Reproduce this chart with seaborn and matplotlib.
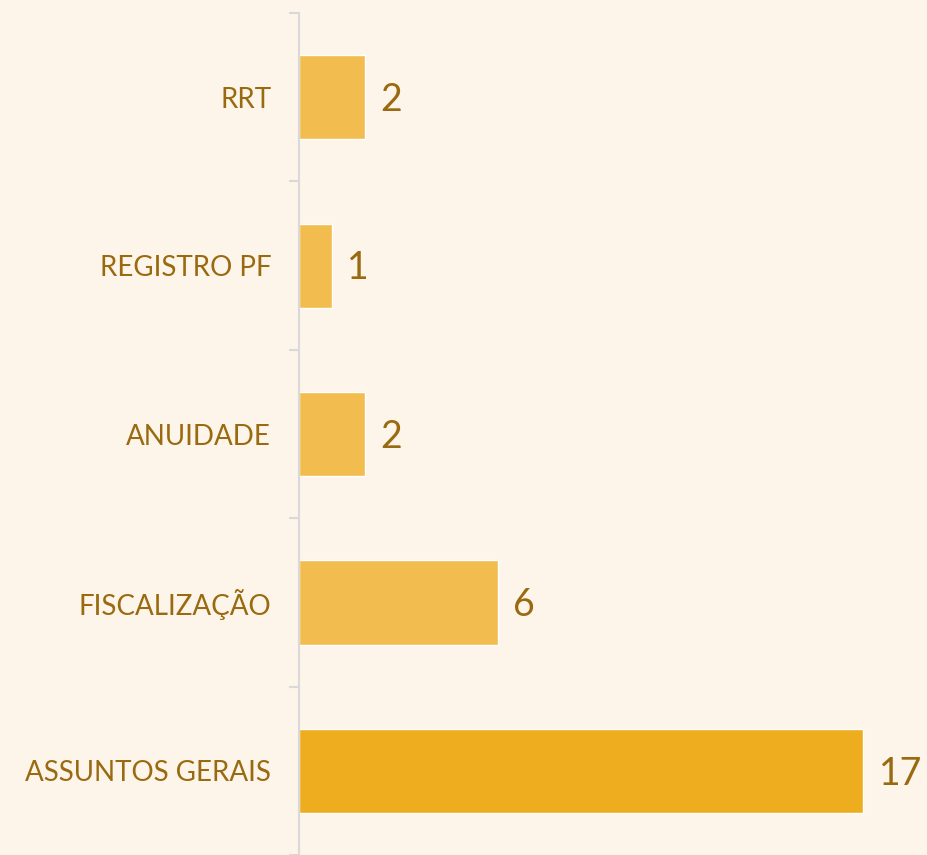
import matplotlib.pyplot as plt
import seaborn as sns
import pandas as pd

# ---- Data ----
categories = ["RRT", "REGISTRO PF", "ANUIDADE", "FISCALIZAÇÃO", "ASSUNTOS GERAIS"]
values = [2, 1, 2, 6, 17]

bg = "#FDF5E9"
text_color = "#9A6A10"
bar_light = "#F2BC4E"
bar_dark = "#EEAC1F"
palette = {c: (bar_dark if c == "ASSUNTOS GERAIS" else bar_light) for c in categories}

df = pd.DataFrame({"category": categories, "value": values})

sns.set_style("white")
plt.rcParams["font.family"] = ["Lato", "DejaVu Sans"]

fig = plt.figure(figsize=(9.27, 8.55), dpi=100, facecolor=bg)
ax = fig.add_axes([299 / 927, 0.0, 628 / 927, 842 / 855])
ax.set_facecolor(bg)

sns.barplot(data=df, y="category", x="value", hue="category", order=categories,
            palette=palette, orient="h", width=0.5, legend=False, ax=ax,
            saturation=1)

ax.set_xlim(0, 628 / 33.2)
ax.set_ylim(4.5, -0.5)
ax.set_xlabel("")
ax.set_ylabel("")
ax.set_xticks([])

# category labels, ticks at the band boundaries
ax.set_yticks(range(len(categories)))
ax.set_yticklabels(categories, fontsize=20, color=text_color)
ax.tick_params(axis="y", which="major", left=False, length=0, pad=20)
ax.set_yticks([i - 0.5 for i in range(len(categories) + 1)], minor=True)
ax.tick_params(axis="y", which="minor", left=True, length=7, width=1.5,
               color="#D9D9D9")

for side in ["top", "right", "bottom"]:
    ax.spines[side].set_visible(False)
ax.spines["left"].set_color("#D9D9D9")
ax.spines["left"].set_linewidth(1.5)

# value labels
for i, v in enumerate(values):
    ax.annotate(str(v), xy=(v, i), xytext=(11, -2), textcoords="offset points",
                ha="left", va="center", fontsize=27, color=text_color)

fig.savefig("out.png", dpi=100, facecolor=bg)
